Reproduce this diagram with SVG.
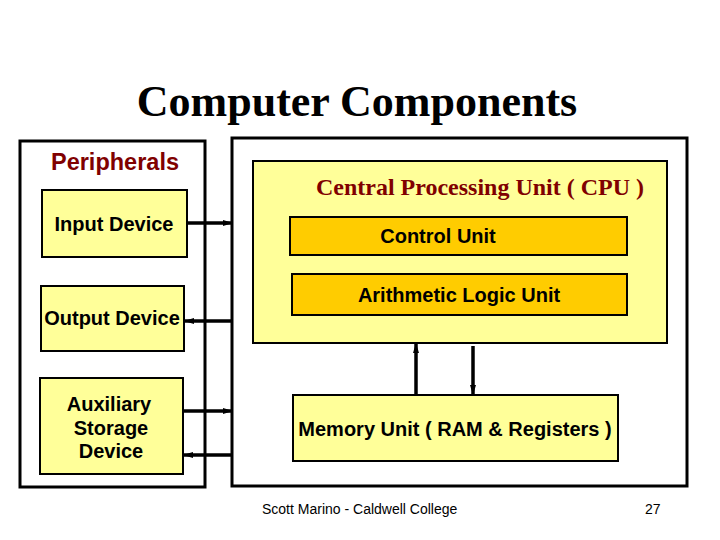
<svg xmlns="http://www.w3.org/2000/svg" width="720" height="540" viewBox="0 0 720 540">
<defs>
<marker id="ah" markerWidth="10" markerHeight="8" refX="9" refY="4" orient="auto" markerUnits="userSpaceOnUse">
<path d="M0,1 L10,4 L0,7 Z" fill="#000"/>
</marker>
<style>
.box{fill:#fff;stroke:#000;stroke-width:3}
.yb{fill:#ffff99;stroke:#000;stroke-width:2}
.ob{fill:#ffcc00;stroke:#000;stroke-width:2}
.lbl{font-family:"Liberation Sans",Arial,sans-serif;font-weight:bold;font-size:20px;fill:#000;text-anchor:middle}
.ser{font-family:"Liberation Serif","Times New Roman",serif;font-weight:bold;text-anchor:middle}
.conn line{stroke:#000;stroke-width:3.5}
.foot{font-family:"Liberation Sans",Arial,sans-serif;font-size:14px;fill:#000}
</style>
</defs>
<rect width="720" height="540" fill="#fff"/>
<text class="ser" x="357" y="116" font-size="44" fill="#000">Computer Components</text>

<g id="peripherals">
<rect class="box" x="20" y="141" width="185" height="346"/>
<text class="lbl" x="115" y="170" style="font-size:23.5px;fill:#800000">Peripherals</text>
</g>
<g id="input">
<rect class="yb" x="42" y="190" width="145" height="67"/>
<text class="lbl" x="114" y="231">Input Device</text>
</g>
<g id="output">
<rect class="yb" x="41" y="286" width="143" height="65"/>
<text class="lbl" x="112" y="325">Output Device</text>
</g>
<g id="aux">
<rect class="yb" x="40" y="378" width="143" height="96"/>
<text class="lbl" x="109" y="411">Auxiliary</text>
<text class="lbl" x="111" y="435">Storage</text>
<text class="lbl" x="111" y="458">Device</text>
</g>

<g id="computer">
<rect class="box" x="232" y="138" width="455" height="348"/>
</g>
<g id="cpu">
<rect class="yb" x="253" y="161" width="414" height="182"/>
<text class="ser" x="480" y="195" font-size="24" fill="#800000">Central Processing Unit ( CPU )</text>
</g>
<g id="control">
<rect class="ob" x="290" y="217" width="337" height="38"/>
<text class="lbl" x="438" y="243">Control Unit</text>
</g>
<g id="alu">
<rect class="ob" x="292" y="274" width="335" height="41"/>
<text class="lbl" x="459" y="302">Arithmetic Logic Unit</text>
</g>
<g id="memory">
<rect class="yb" x="293" y="395" width="325" height="66"/>
<text class="lbl" x="455" y="436">Memory Unit ( RAM &amp; Registers )</text>
</g>

<g id="connectors" class="conn">
<line x1="188" y1="223" x2="232" y2="223" marker-end="url(#ah)"/>
<line x1="231" y1="321" x2="185" y2="321" marker-end="url(#ah)"/>
<line x1="184" y1="411" x2="232" y2="411" marker-end="url(#ah)"/>
<line x1="231" y1="455" x2="184" y2="455" marker-end="url(#ah)"/>
<line x1="416" y1="394" x2="416" y2="344" marker-end="url(#ah)"/>
<line x1="473" y1="346" x2="473" y2="394" marker-end="url(#ah)"/>
</g>

<text class="foot" x="262" y="514">Scott Marino - Caldwell College</text>
<text class="foot" x="645" y="514">27</text>
</svg>
